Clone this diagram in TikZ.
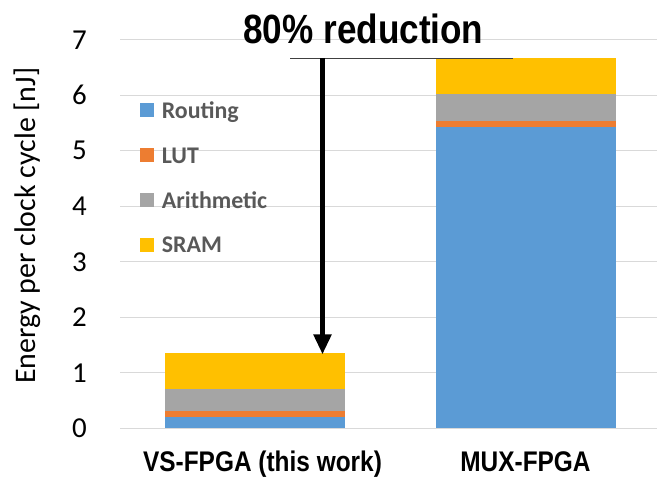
\documentclass[tikz,border=0pt]{standalone}
\usepackage{fontspec}
\setmainfont{Carlito}
\newfontfamily\narrowsans{Liberation Sans}[FakeStretch=0.86]
\usetikzlibrary{arrows.meta,positioning}
\definecolor{routingblue}{RGB}{91,155,213}
\definecolor{lutorange}{RGB}{237,125,49}
\definecolor{arithgray}{RGB}{165,165,165}
\definecolor{sramyellow}{RGB}{255,192,0}
\definecolor{gridgray}{RGB}{217,217,217}
\definecolor{legendtext}{RGB}{89,89,89}

\begin{document}
\begin{tikzpicture}[
    x=1bp, y=1bp,
    gridline/.style={draw=gridgray, line width=1.3bp},
    ticklabel/.style={anchor=east, inner sep=0pt, font=\fontsize{29}{29}\selectfont},
    legendbox/.style={minimum size=14bp, inner sep=0pt},
    legendlabel/.style={anchor=base west, inner sep=0pt, text=legendtext, font=\fontsize{24}{24}\selectfont\bfseries},
    category/.style={anchor=base, inner sep=0pt, font=\narrowsans\bfseries\fontsize{28.5}{28.5}\selectfont},
    arrow/.style={-{Triangle[width=17bp,length=20bp]}, line width=5bp}
]
    \useasboundingbox (0,0) rectangle (659,478);

    \begin{scope}[shift={(0,49.7)}, y=55.5bp]
        % grid and y ticks
        \foreach \v in {0,...,7} {
            \draw[gridline] (120,\v) -- (657,\v);
            \node[ticklabel] (tick\v) at (87,\v) {\v};
        }

        % VS-FPGA bar
        \fill[routingblue] (165,0) rectangle (345.3,0.2);
        \fill[lutorange]   (165,0.2) rectangle (345.3,0.31);
        \fill[arithgray]   (165,0.31) rectangle (345.3,0.7);
        \fill[sramyellow]  (165,0.7) rectangle (345.3,1.35);

        % MUX-FPGA bar
        \fill[routingblue] (435.7,0) rectangle (615.7,5.43);
        \fill[lutorange]   (435.7,5.43) rectangle (615.7,5.54);
        \fill[arithgray]   (435.7,5.54) rectangle (615.7,6.02);
        \fill[sramyellow]  (435.7,6.02) rectangle (615.7,6.67);

        % reduction marker
        \coordinate (muxlevel) at (322.5,6.67);
        \coordinate (levelleft) at (290,6.67);
        \coordinate (levelright) at (513,6.67);
        \coordinate (vstop) at (322.5,1.33);
        \draw[draw=black!75, line width=1.2bp] (levelleft) -- (levelright);
        \draw[arrow] (muxlevel) -- (vstop);
    \end{scope}

    \node[anchor=base, inner sep=0pt, font=\narrowsans\bfseries\fontsize{41}{41}\selectfont] (title) at (363.4,434.7) {80\% reduction};

    % legend
    \node[legendbox, fill=routingblue] (legrouting) at (147,368) {};
    \node[legendbox, fill=lutorange, below=30.5bp of legrouting] (leglut) {};
    \node[legendbox, fill=arithgray, below=30.5bp of leglut] (legarith) {};
    \node[legendbox, fill=sramyellow, below=30.5bp of legarith] (legsram) {};
    \node[legendlabel] at ([xshift=7.5bp, yshift=-8.3bp]legrouting.east) {Routing};
    \node[legendlabel] at ([xshift=7.5bp, yshift=-8.3bp]leglut.east) {LUT};
    \node[legendlabel] at ([xshift=7.5bp, yshift=-8.3bp]legarith.east) {Arithmetic};
    \node[legendlabel] at ([xshift=7.5bp, yshift=-8.3bp]legsram.east) {SRAM};

    % axis title and categories
    \node[rotate=90, anchor=base, inner sep=0pt, font=\fontsize{30}{30}\selectfont] (ylabel) at (35,252.2) {Energy per clock cycle [nJ]};
    \node[category] (catvs) at (262.5,6.3) {VS-FPGA (this work)};
    \node[category] (catmux) at (525.5,6.3) {MUX-FPGA};
\end{tikzpicture}
\end{document}
